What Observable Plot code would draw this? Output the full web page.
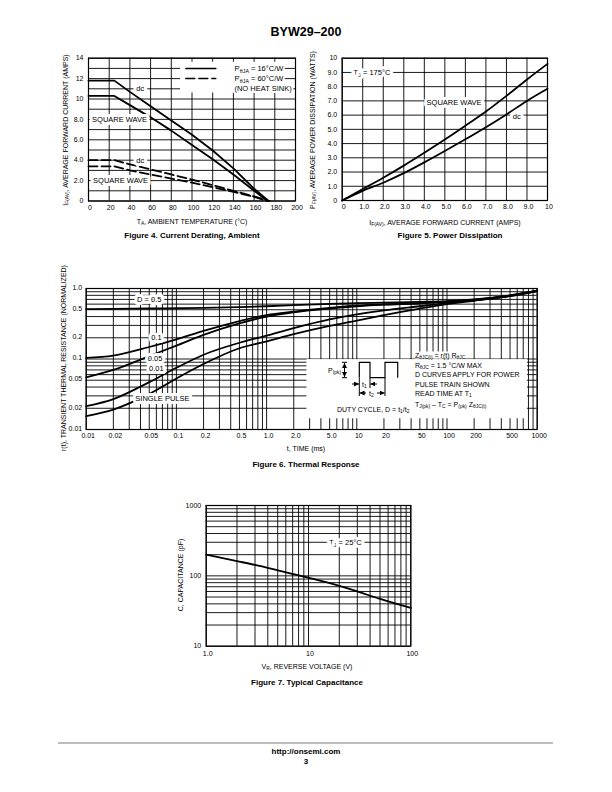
<!DOCTYPE html>
<html><head><meta charset="utf-8">
<script src="https://cdn.jsdelivr.net/npm/d3@7"></script>
<script src="https://cdn.jsdelivr.net/npm/@observablehq/plot@0.6"></script>
<style>
html,body{margin:0;padding:0;background:#fff;}
#page{position:relative;width:612px;height:792px;overflow:hidden;font-family:"Liberation Sans Narrow","Arial Narrow","Liberation Sans",Arial,sans-serif;color:#000;}
.abs{position:absolute;white-space:nowrap;line-height:1;}
.t7{font-size:7px;}
.ann{font-size:7px;}
.cap{font-family:"Liberation Sans",Arial,sans-serif;font-weight:bold;font-size:8px;}
.c{transform:translate(-50%,-50%);}
.l{transform:translate(0,-50%);}
.rot{transform:translate(-50%,-50%) rotate(-90deg);}
sub{font-size:70%;vertical-align:-0.3em;line-height:0;}
</style></head><body><div id="page"></div>
<script>
const FONT = '"Liberation Sans Narrow","Arial Narrow","Liberation Sans",Arial,sans-serif';
const page = document.getElementById("page");

// ---------------- Figure 4 data ----------------
const fig4XTicks = [0,20,40,60,80,100,120,140,160,180,200];
const fig4XLabels = ["0","20","40","60","80","100","120","140","160","180","200"];
const fig4YTicks = [0,2,4,6,8,10,12,14];
const fig4YLabels = ["0","2.0","4.0","6.0","8.0","10","12","14"];
const fig4DcSolidT = [0,25,40,60,80,100,120,140,160,174];
const fig4DcSolidI = [11.8,11.8,10.7,9.3,7.9,6.5,4.95,3.2,1.2,0];
const fig4SwSolidT = [0,25,40,60,80,100,120,140,160,173];
const fig4SwSolidI = [10.3,10.3,9.4,8.2,6.9,5.5,4.1,2.6,1.0,0];
const fig4DcDashT = [0,25,40,60,80,100,120,140,160,175];
const fig4DcDashI = [4.0,4.0,3.6,3.1,2.6,2.1,1.55,1.0,0.45,0];
const fig4SwDashT = [0,25,40,60,80,100,120,140,160,173];
const fig4SwDashI = [3.4,3.4,3.0,2.6,2.2,1.8,1.35,0.9,0.4,0];
const fig4LabelText = ["dc","SQUARE WAVE","dc","SQUARE WAVE"];
const fig4LabelT = [50,30,50,31];
const fig4LabelI = [11,8,4,2];
const fig4LegendText = ["R_{θJA} = 16°C/W","R_{θJA} = 60°C/W","(NO HEAT SINK)"];

// ---------------- Figure 5 data ----------------
const fig5XTicks = [0,1,2,3,4,5,6,7,8,9,10];
const fig5XLabels = ["0","1.0","2.0","3.0","4.0","5.0","6.0","7.0","8.0","9.0","10"];
const fig5YTicks = [0,1,2,3,4,5,6,7,8,9,10];
const fig5YLabels = ["0","1.0","2.0","3.0","4.0","5.0","6.0","7.0","8.0","9.0","10"];
const fig5Current = [0,1,2,3,4,5,6,7,8,9,10];
const fig5SquareWave = [0,0.8,1.6,2.45,3.35,4.28,5.25,6.25,7.35,8.5,9.6];
const fig5Dc = [0,0.68,1.25,1.92,2.68,3.48,4.3,5.15,6.05,7.0,7.85];

// ---------------- Figure 6 data ----------------
const fig6XTicks = [0.01,0.02,0.05,0.1,0.2,0.5,1,2,5,10,20,50,100,200,500,1000];
const fig6XLabels = ["0.01","0.02","0.05","0.1","0.2","0.5","1.0","2.0","5.0","10","20","50","100","200","500","1000"];
const fig6YTicks = [0.01,0.02,0.05,0.1,0.2,0.5,1];
const fig6YLabels = ["0.01","0.02","0.05","0.1","0.2","0.5","1.0"];
const fig6Time = [0.01,0.02,0.05,0.1,0.2,0.5,1,2,5,10,20,50,100,200,500,1000];
const fig6D05 = [0.51,0.515,0.52,0.525,0.53,0.545,0.56,0.58,0.605,0.62,0.63,0.645,0.66,0.70,0.80,0.93];
const fig6D01 = [0.104,0.112,0.148,0.19,0.25,0.345,0.42,0.47,0.53,0.57,0.595,0.62,0.65,0.69,0.79,0.93];
const fig6D005 = [0.055,0.07,0.11,0.155,0.22,0.32,0.40,0.46,0.52,0.56,0.59,0.615,0.645,0.69,0.79,0.93];
const fig6D001 = [0.0214,0.027,0.047,0.075,0.115,0.17,0.215,0.275,0.365,0.43,0.49,0.56,0.62,0.68,0.785,0.92];
const fig6Single = [0.0155,0.0192,0.032,0.053,0.085,0.142,0.178,0.225,0.295,0.35,0.42,0.52,0.60,0.67,0.78,0.92];
const fig6LabelText = ["D = 0.5","0.1","0.05","0.01","SINGLE PULSE"];
const fig6LabelT = [0.05,0.06,0.058,0.06,0.07];
const fig6LabelR = [0.7,0.2,0.103,0.074,0.027];

// ---------------- Figure 7 data ----------------
const fig7XTicks = [1,10,100];
const fig7XLabels = ["1.0","10","100"];
const fig7YTicks = [10,30,100,300,1000];
const fig7YLabels = ["10","30","100","300","1000"];
const fig7Voltage = [1,2,3,5,10,20,30,50,100];
const fig7Capacitance = [200,162,143,120,94,72,60,47,35];

// ---------------- helpers ----------------
const zip = (xs, ys) => xs.map((x, i) => ({x, y: ys[i]}));
const lab = (ticks, labels) => d => labels[ticks.findIndex(t => Math.abs(t - d) < 1e-9 * Math.max(1, t))];
const logMinor = (lo, hi) => { const a = []; for (let e = lo; e < hi; e++) for (let k = 1; k <= 9; k++) a.push(+(k * 10 ** e).toPrecision(6)); a.push(10 ** hi); return a; };
const GRID = {stroke: "#000", strokeOpacity: 1, strokeWidth: 0.9};
const STYLE = {fontFamily: FONT, fontSize: "7px", background: "transparent", overflow: "visible"};
const HALO = {fill: "#000", stroke: "white", strokeWidth: 6, fontSize: 7.5};

function subify(svg, fs) {
  svg.querySelectorAll("text").forEach(t => {
    const s = t.textContent;
    if (!s.includes("_{")) return;
    const parts = s.split(/(_\{[^}]*\})/);
    while (t.firstChild) t.removeChild(t.firstChild);
    let shifted = false;
    for (const p of parts) {
      if (!p) continue;
      const ts = document.createElementNS("http://www.w3.org/2000/svg", "tspan");
      if (p.startsWith("_{")) {
        ts.textContent = p.slice(2, -1);
        ts.setAttribute("font-size", fs * 0.7);
        if (!shifted) { ts.setAttribute("dy", fs * 0.3); shifted = true; }
      } else {
        ts.textContent = p;
        if (shifted) { ts.setAttribute("dy", -fs * 0.3); shifted = false; }
      }
      t.appendChild(ts);
    }
  });
}
function place(svg, left, top) {
  svg.style.position = "absolute"; svg.style.left = left + "px"; svg.style.top = top + "px";
  page.appendChild(svg);
}

// ---------------- Figure 4 ----------------
const fig4 = Plot.plot({
  width: 255, height: 175, marginLeft: 38, marginRight: 10, marginTop: 9.7, marginBottom: 22.5,
  x: {domain: [0, 200]}, y: {domain: [0, 14]}, style: STYLE,
  marks: [
    Plot.gridX(fig4XTicks, GRID),
    Plot.gridY(d3.range(0, 15), GRID),
    Plot.rect([{x1: 89, x2: 188, y1: 10.6, y2: 13.6}], {x1: "x1", x2: "x2", y1: "y1", y2: "y2", fill: "white"}),
    Plot.line(zip(fig4DcSolidT, fig4DcSolidI), {x: "x", y: "y", stroke: "#000", strokeWidth: 1.8}),
    Plot.line(zip(fig4SwSolidT, fig4SwSolidI), {x: "x", y: "y", stroke: "#000", strokeWidth: 1.8}),
    Plot.line(zip(fig4DcDashT, fig4DcDashI), {x: "x", y: "y", stroke: "#000", strokeWidth: 1.8, strokeDasharray: "9,4"}),
    Plot.line(zip(fig4SwDashT, fig4SwDashI), {x: "x", y: "y", stroke: "#000", strokeWidth: 1.8, strokeDasharray: "9,4"}),
    Plot.text(fig4LabelText.map((t, i) => ({t, x: fig4LabelT[i], y: fig4LabelI[i]})), {x: "x", y: "y", text: "t", ...HALO}),
    Plot.line([{x: 94, y: 13}, {x: 123, y: 13}], {x: "x", y: "y", stroke: "#000", strokeWidth: 1.5}),
    Plot.line([{x: 94, y: 12}, {x: 123, y: 12}], {x: "x", y: "y", stroke: "#000", strokeWidth: 1.5, strokeDasharray: "9,4"}),
    Plot.text(fig4LegendText.map((t, i) => ({t, x: 141, y: 13 - i})), {x: "x", y: "y", text: "t", textAnchor: "start", ...HALO, strokeWidth: 4}),
    Plot.frame({stroke: "#000", strokeWidth: 1.2}),
    Plot.axisX(fig4XTicks, {tickSize: 0, tickPadding: 4, dx: 1.5, tickFormat: lab(fig4XTicks, fig4XLabels), label: null, fontSize: 7}),
    Plot.axisY(fig4YTicks, {tickSize: 0, tickPadding: 5, tickFormat: lab(fig4YTicks, fig4YLabels), label: null, fontSize: 7})
  ]
});
subify(fig4, 7.5);
place(fig4, 50, 48);

// ---------------- Figure 5 ----------------
const fig5 = Plot.plot({
  width: 240, height: 175, marginLeft: 21.7, marginRight: 13, marginTop: 9.7, marginBottom: 23,
  x: {domain: [0, 10]}, y: {domain: [0, 10]}, style: STYLE,
  marks: [
    Plot.gridX(fig5XTicks, GRID),
    Plot.gridY(fig5YTicks, GRID),
    Plot.line(zip(fig5Current, fig5SquareWave), {x: "x", y: "y", stroke: "#000", strokeWidth: 1.8, curve: "monotone-x"}),
    Plot.line(zip(fig5Current, fig5Dc), {x: "x", y: "y", stroke: "#000", strokeWidth: 1.8, curve: "monotone-x"}),
    Plot.text([{t: "T_{J} = 175°C", x: 1.45, y: 9}, {t: "SQUARE WAVE", x: 5.45, y: 6.85}, {t: "dc", x: 8.5, y: 5.9}], {x: "x", y: "y", text: "t", ...HALO}),
    Plot.frame({stroke: "#000", strokeWidth: 1.2}),
    Plot.axisX(fig5XTicks, {tickSize: 0, tickPadding: 4, dx: 1.5, tickFormat: lab(fig5XTicks, fig5XLabels), label: null, fontSize: 7}),
    Plot.axisY(fig5YTicks, {tickSize: 0, tickPadding: 5, tickFormat: lab(fig5YTicks, fig5YLabels), label: null, fontSize: 7})
  ]
});
subify(fig5, 7.5);
place(fig5, 320, 48);

// ---------------- Figure 6 ----------------
const fig6Series = [fig6D05, fig6D01, fig6D005, fig6D001, fig6Single];
const fig6 = Plot.plot({
  width: 495, height: 165, marginLeft: 30.7, marginRight: 13.3, marginTop: 10, marginBottom: 14,
  x: {type: "log", domain: [0.01, 1000], axis: null}, y: {type: "log", domain: [0.01, 1], axis: null}, style: STYLE,
  marks: [
    Plot.gridX(logMinor(-2, 3), GRID),
    Plot.gridY(logMinor(-2, 0), GRID),
    Plot.rect([{x1: 2.8, x2: 780, y1: 0.0142, y2: 0.098}], {x1: "x1", x2: "x2", y1: "y1", y2: "y2", fill: "white"}),
    ...fig6Series.map(s => Plot.line(zip(fig6Time, s), {x: "x", y: "y", stroke: "#000", strokeWidth: 1.8, curve: "monotone-x"})),
    Plot.text(fig6LabelText.map((t, i) => ({t, x: fig6LabelT[i], y: fig6LabelR[i]})), {x: "x", y: "y", text: "t", ...HALO}),
    Plot.frame({stroke: "#000", strokeWidth: 1.2}),
    Plot.text(fig6XTicks, {x: d => d, text: lab(fig6XTicks, fig6XLabels), frameAnchor: "bottom", lineAnchor: "top", dy: 4, dx: 2, fontSize: 7}),
    Plot.text(fig6YTicks, {y: d => d, text: lab(fig6YTicks, fig6YLabels), frameAnchor: "left", textAnchor: "end", dx: -4, dy: -1, fontSize: 7})
  ]
});
place(fig6, 55, 278);

// ---------------- Figure 7 ----------------
const fig7 = Plot.plot({
  width: 250, height: 170, marginLeft: 30.7, marginRight: 14.7, marginTop: 10, marginBottom: 19.3,
  x: {type: "log", domain: [1, 100]}, y: {type: "log", domain: [10, 1000]}, style: STYLE,
  marks: [
    Plot.gridX(logMinor(0, 2), GRID),
    Plot.gridY(logMinor(1, 3), GRID),
    Plot.line(zip(fig7Voltage, fig7Capacitance), {x: "x", y: "y", stroke: "#000", strokeWidth: 1.8, curve: "monotone-x"}),
    Plot.text([{t: "T_{J} = 25°C", x: 23, y: 300}], {x: "x", y: "y", text: "t", ...HALO}),
    Plot.frame({stroke: "#000", strokeWidth: 1.2}),
    Plot.axisX(fig7XTicks, {tickSize: 0, tickPadding: 5, dx: 1.5, tickFormat: lab(fig7XTicks, fig7XLabels), label: null, fontSize: 7}),
    Plot.axisY(fig7YTicks, {tickSize: 0, tickPadding: 5, tickFormat: lab(fig7YTicks, fig7YLabels), label: null, fontSize: 7})
  ]
});
subify(fig7, 7.5);
place(fig7, 175, 495);

// ---------------- HTML text ----------------
function txt(html, cls, x, y) {
  const d = document.createElement("div");
  d.className = "abs " + cls; d.innerHTML = html;
  d.style.left = x + "px"; d.style.top = y + "px";
  page.appendChild(d);
  return d;
}
txt("BYW29–200", "c", 306, 32).style.cssText += "font-family:'Liberation Sans',Arial,sans-serif;font-weight:bold;font-size:12.5px;";
// Fig 4
txt("T<sub>A</sub>, AMBIENT TEMPERATURE (°C)", "t7 c", 192, 221);
txt("I<sub>F(AV)</sub>, AVERAGE FORWARD CURRENT (AMPS)", "t7 rot", 65, 130);
txt("Figure 4. Current Derating, Ambient", "cap c", 192, 236);
// Fig 5
txt("I<sub>F(AV)</sub>, AVERAGE FORWARD CURRENT (AMPS)", "t7 c", 445, 222);
txt("P<sub>F(AV)</sub>, AVERAGE POWER DISSIPATION (WATTS)", "t7 rot", 312, 130);
txt("Figure 5. Power Dissipation", "cap c", 450, 236);
// Fig 6
txt("t, TIME (ms)", "t7 c", 306, 448);
txt("r(t), TRANSIENT THERMAL RESISTANCE (NORMALIZED)", "t7 rot", 63, 358);
txt("Figure 6. Thermal Response", "cap c", 306, 465);
const ann = [
  ["Z<sub>θJC(t)</sub> = r(t) R<sub>θJC</sub>", 355],
  ["R<sub>θJC</sub> = 1.5 °C/W MAX", 365],
  ["D CURVES APPLY FOR POWER", 374],
  ["PULSE TRAIN SHOWN", 383.5],
  ["READ TIME AT T<sub>1</sub>", 393],
  ["T<sub>J(pk)</sub> – T<sub>C</sub> = P<sub>(pk)</sub> Z<sub>θJC(t)</sub>", 403.5]
];
ann.forEach(([h, y]) => { const d = txt(h, "ann l", 415, y); d.style.background = "#fff"; });
txt("P<sub>(pk)</sub>", "ann l", 328, 370);
txt("t<sub>1</sub>", "ann l", 362, 384);
txt("t<sub>2</sub>", "ann l", 369, 393);
txt("DUTY CYCLE, D = t<sub>1</sub>/t<sub>2</sub>", "ann l", 337, 408.5);
// pulse diagram
const NS = "http://www.w3.org/2000/svg";
const pd = document.createElementNS(NS, "svg");
pd.setAttribute("width", 612); pd.setAttribute("height", 792);
pd.style.cssText = "position:absolute;left:0;top:0;pointer-events:none";
pd.innerHTML = `
<defs><marker id="ah" viewBox="0 0 6 6" refX="6" refY="3" markerWidth="5" markerHeight="5" orient="auto-start-reverse"><path d="M0,0L6,3L0,6z" fill="#000"/></marker></defs>
<g fill="none" stroke="#000" stroke-width="1">
<path d="M359.3,377.7V362.3H370V377.7H385V362.3H397.7V377.7" stroke-width="1.2"/>
<path d="M342,362.3H347M342,377.7H347"/>
<path d="M344.5,363V377" marker-start="url(#ah)" marker-end="url(#ah)"/>
<path d="M359.3,378V396M370,378V388M385,378V396"/>
<path d="M352,384H359" marker-end="url(#ah)"/>
<path d="M377,384H370.3" marker-end="url(#ah)"/>
<path d="M366,393H359.6" marker-end="url(#ah)"/>
<path d="M377,393H384.7" marker-end="url(#ah)"/>
</g>`;
page.appendChild(pd);
// Fig 7
txt("V<sub>R</sub>, REVERSE VOLTAGE (V)", "t7 c", 307, 666);
txt("C, CAPACITANCE (pF)", "t7 rot", 180, 575);
txt("Figure 7. Typical Capacitance", "cap c", 307, 683);
// footer
const hr = document.createElement("div");
hr.style.cssText = "position:absolute;left:58px;top:742px;width:495px;height:2px;background:#bdbdbd";
page.appendChild(hr);
txt("http://onsemi.com", "cap c", 306, 752);
txt("3", "cap c", 306, 762);
</script></body></html>
